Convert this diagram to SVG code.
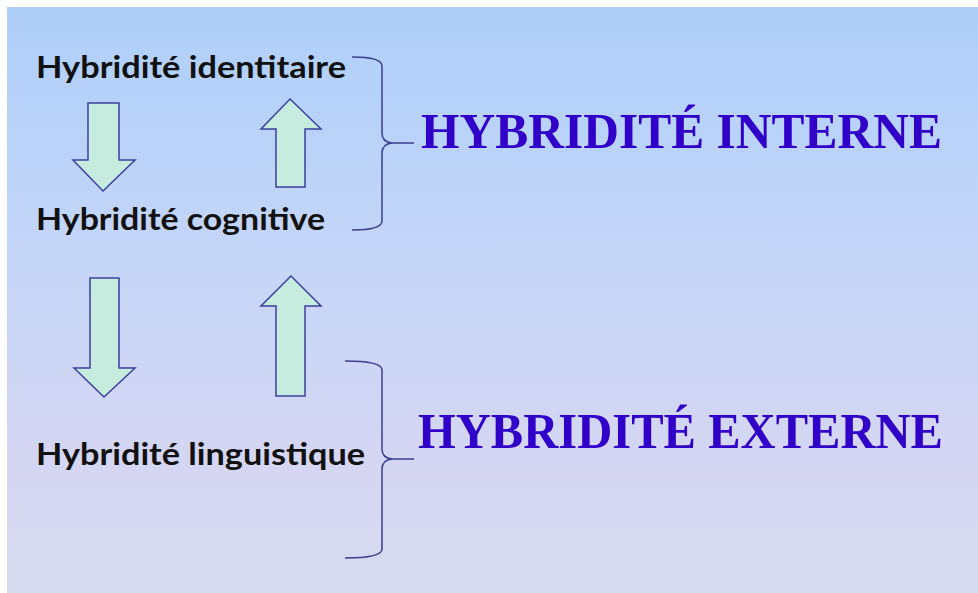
<svg xmlns="http://www.w3.org/2000/svg" width="978" height="593" viewBox="0 0 978 593">
<defs>
<linearGradient id="bg" x1="0" y1="0" x2="0" y2="1">
<stop offset="0" stop-color="#aecff9"/>
<stop offset="0.45" stop-color="#c6d6f8"/>
<stop offset="0.8" stop-color="#d6d6f2"/>
<stop offset="1" stop-color="#d6dcef"/>
</linearGradient>
</defs>
<style>
.lbl{font-family:Lato,"Open Sans","Liberation Sans",sans-serif;font-weight:bold;font-size:30px;fill:#111}
.ttl{font-family:"Liberation Serif","Times New Roman",serif;font-weight:bold;font-size:50px;fill:#3000c8}
.arr{fill:#c6ece0;stroke:#3b3f9c;stroke-width:1.5;stroke-linejoin:miter}
.br{fill:none;stroke:#3b3f8e;stroke-width:1.5}
</style>
<rect width="978" height="593" fill="#ffffff"/>
<rect x="7" y="7" width="971" height="586" fill="url(#bg)"/>
<g id="identitaire"><text class="lbl" x="36" y="78" textLength="310" lengthAdjust="spacingAndGlyphs">Hybridité identitaire</text></g>
<g id="cognitive"><text class="lbl" x="36" y="230" textLength="289" lengthAdjust="spacingAndGlyphs">Hybridité cognitive</text></g>
<g id="linguistique"><text class="lbl" x="36" y="465" textLength="329" lengthAdjust="spacingAndGlyphs">Hybridité linguistique</text></g>
<g id="interne"><text class="ttl" x="421" y="148" textLength="521" lengthAdjust="spacingAndGlyphs">HYBRIDITÉ INTERNE</text></g>
<g id="externe"><text class="ttl" x="418" y="448" textLength="525" lengthAdjust="spacingAndGlyphs">HYBRIDITÉ EXTERNE</text></g>
<g id="connectors">
<path class="arr" d="M88,103 H119 V160 H135 L103,191 L73,160 H88 Z"/>
<path class="arr" d="M276,187 V129 H261 L290,99 L321,129 H305 V187 Z"/>
<path class="arr" d="M90,278 H119 V368 H135 L104,397 L74,368 H90 Z"/>
<path class="arr" d="M276,396 V306 H261 L291,276 L321,306 H305 V396 Z"/>
<path class="br" d="M352,57 Q382,57 382,66 V133 Q382,142 392,143 H414 M392,143 Q382,144 382,153 V221 Q382,230 352,230"/>
<path class="br" d="M345,361 Q382,361 382,370 V449 Q382,458 392,459 H414 M392,459 Q382,460 382,469 V549 Q382,558 345,558"/>
</g>
</svg>
